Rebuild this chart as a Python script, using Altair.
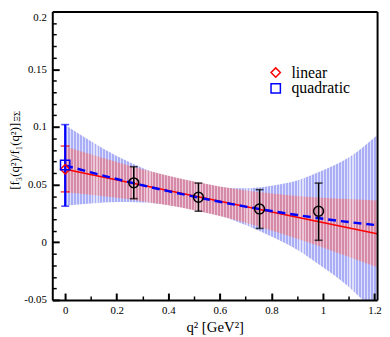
import altair as alt
import pandas as pd

# ---------------- data ----------------
band_x = [0.0, 0.1, 0.2, 0.3, 0.4, 0.5, 0.6, 0.7, 0.8, 0.9, 1.0, 1.1, 1.21]
lin_lo = [0.0433, 0.0412, 0.0385, 0.0356, 0.0320, 0.0278, 0.0227, 0.0169, 0.0103, 0.0031, -0.0045, -0.0126, -0.0217]
lin_hi = [0.0833, 0.0762, 0.0695, 0.0632, 0.0576, 0.0526, 0.0483, 0.0449, 0.0423, 0.0401, 0.0385, 0.0374, 0.0363]
quad_c = [0.0666, 0.0606, 0.0548, 0.0494, 0.0443, 0.0396, 0.0351, 0.0309, 0.0271, 0.0236, 0.0204, 0.0175, 0.0148]
quad_lo = [0.0316, 0.0336, 0.0348, 0.0344, 0.0323, 0.0286, 0.0231, 0.0149, 0.0051, -0.0064, -0.0216, -0.0385, -0.0632]
quad_hi = [0.1016, 0.0876, 0.0748, 0.0644, 0.0563, 0.0506, 0.0471, 0.0469, 0.0491, 0.0536, 0.0624, 0.0735, 0.0928]

lin_x = [0.0, 1.21]
lin_y = [0.0633, 0.0073]

q2 = [0.266, 0.517, 0.754, 0.983]
ratio = [0.0515, 0.0390, 0.0289, 0.0269]
ratio_lo = [0.0378, 0.0269, 0.0120, 0.0017]
ratio_hi = [0.0655, 0.0513, 0.0456, 0.0513]

fits = ["linear", "quadratic"]
fit_x = [0.0, 0.0]
fit_val = [0.0633, 0.0670]
fit_lo = [0.0437, 0.0313]
fit_hi = [0.0834, 0.1020]

x_major = [0, 0.2, 0.4, 0.6, 0.8, 1.0, 1.2]
x_minor = [0.1, 0.3, 0.5, 0.7, 0.9, 1.1]
y_major = [-0.05, 0, 0.05, 0.1, 0.15, 0.2]
y_minor = [-0.04, -0.03, -0.02, -0.01, 0.01, 0.02, 0.03, 0.04, 0.06, 0.07, 0.08, 0.09,
           0.11, 0.12, 0.13, 0.14, 0.16, 0.17, 0.18, 0.19]

# ---------------- styling ----------------
FONT = "Liberation Serif"
W, H = 330, 293
X_DOM = [-0.05, 1.21]
Y_DOM = [-0.05, 0.2]
xs = alt.Scale(domain=X_DOM, nice=False, zero=False)
ys = alt.Scale(domain=Y_DOM, nice=False, zero=False)
RED, BLUE = "#ff0000", "#0000ff"

band_px = W * (band_x[-1] - band_x[0]) / (X_DOM[1] - X_DOM[0])
N_STRIPES = int(round(band_px / 3.0))


def stripe_fill(line, gap, n):
    stops = []
    for i in range(n):
        a, b, c = i / n, (i + 0.62) / n, (i + 1) / n
        stops += [alt.GradientStop(offset=a, color=line), alt.GradientStop(offset=b, color=line),
                  alt.GradientStop(offset=b, color=gap), alt.GradientStop(offset=c, color=gap)]
    return alt.LinearGradient(gradient="linear", stops=stops, x1=0, x2=1, y1=0, y2=0)


blue_fill = stripe_fill("#a9aef6", "#dfe1fb", N_STRIPES)
pink_fill = stripe_fill("#d58ba8", "#ecc6d5", N_STRIPES)

band_df = pd.DataFrame({"x": band_x, "lin_lo": lin_lo, "lin_hi": lin_hi,
                        "quad_c": quad_c, "quad_lo": quad_lo, "quad_hi": quad_hi})
lin_df = pd.DataFrame({"x": lin_x, "y": lin_y})
pts_df = pd.DataFrame({"x": q2, "y": ratio, "lo": ratio_lo, "hi": ratio_hi})
fit_df = pd.DataFrame({"fit": fits, "x": fit_x, "y": fit_val, "lo": fit_lo, "hi": fit_hi})

# axes
ax_x_main = alt.Axis(orient="bottom", values=x_major, format="~g", labelFont=FONT, labelFontSize=11,
                     labelColor="black", ticks=False, tickSize=0, domain=True, domainColor="black",
                     domainWidth=2, grid=False, labelPadding=5, title="q² [GeV²]", titleFont=FONT,
                     titleFontSize=15, titleFontWeight="normal", titleColor="black", titlePadding=4,
                     zindex=1)
ax_y_main = alt.Axis(orient="left", values=y_major,
                     labelExpr="replace(format(datum.value, '~g'), '\u2212', '-')",
                     labelFont=FONT, labelFontSize=11, labelColor="black", ticks=False, tickSize=0,
                     domain=True, domainColor="black", domainWidth=2, grid=False, labelPadding=6,
                     labelBaseline=alt.condition("datum.value == 0.2", alt.value("top"), alt.value("middle")),
                     title=None, zindex=1)
ax_x_frame = alt.Axis(orient="top", labels=False, ticks=False, tickSize=0, domain=True,
                      domainColor="black", domainWidth=2, grid=False, title=None, zindex=1)
ax_y_frame = alt.Axis(orient="right", labels=False, ticks=False, tickSize=0, domain=True,
                      domainColor="black", domainWidth=2, grid=False, title=None, zindex=1)
ax_x_major = alt.Axis(orient="top", offset=-H, values=x_major, labels=False, ticks=True, tickSize=7,
                      tickWidth=2, tickColor="black", domain=False, grid=False, title=None, zindex=1)
ax_y_major = alt.Axis(orient="right", offset=-W, values=y_major, labels=False, ticks=True, tickSize=7,
                      tickWidth=2, tickColor="black", domain=False, grid=False, title=None, zindex=1)
ax_x_minor = alt.Axis(orient="top", offset=-H, values=x_minor, labels=False, ticks=True, tickSize=4,
                      tickWidth=1.5, tickColor="black", domain=False, grid=False, title=None, zindex=1)
ax_y_minor = alt.Axis(orient="right", offset=-W, values=y_minor, labels=False, ticks=True, tickSize=4,
                      tickWidth=1.5, tickColor="black", domain=False, grid=False, title=None, zindex=1)

blue_band = alt.Chart(band_df).mark_area(fill=blue_fill, clip=True, interpolate="monotone").encode(
    x=alt.X("x:Q", scale=xs, axis=ax_x_main),
    y=alt.Y("quad_lo:Q", scale=ys, axis=ax_y_main),
    y2="quad_hi:Q")

pink_band = alt.Chart(band_df).mark_area(fill=pink_fill, clip=True, interpolate="monotone").encode(
    x=alt.X("x:Q", scale=xs, axis=ax_x_frame),
    y=alt.Y("lin_lo:Q", scale=ys, axis=ax_y_frame),
    y2="lin_hi:Q")

red_line = alt.Chart(lin_df).mark_line(color=RED, strokeWidth=1.6, clip=True).encode(
    x=alt.X("x:Q", scale=xs, axis=ax_x_major),
    y=alt.Y("y:Q", scale=ys, axis=ax_y_major))

blue_line = alt.Chart(band_df).mark_line(color=BLUE, strokeWidth=2.5, strokeDash=[8, 5],
                                         interpolate="monotone", clip=True).encode(
    x=alt.X("x:Q", scale=xs, axis=ax_x_minor),
    y=alt.Y("quad_c:Q", scale=ys, axis=ax_y_minor))


def fit_errbar(name, color, width, cap):
    base = alt.Chart(fit_df).transform_filter(alt.datum.fit == name)
    bar = base.mark_rule(color=color, strokeWidth=width).encode(
        x=alt.X("x:Q", scale=xs, axis=None),
        y=alt.Y("lo:Q", scale=ys, axis=None), y2="hi:Q")
    lo = base.mark_tick(orient="horizontal", color=color, size=cap, thickness=1.6).encode(
        x=alt.X("x:Q", scale=xs, axis=None), y=alt.Y("lo:Q", scale=ys, axis=None))
    hi = base.mark_tick(orient="horizontal", color=color, size=cap, thickness=1.6).encode(
        x=alt.X("x:Q", scale=xs, axis=None), y=alt.Y("hi:Q", scale=ys, axis=None))
    return [bar, lo, hi]


red_err = fit_errbar("linear", RED, 1.5, 9)
blue_err = fit_errbar("quadratic", BLUE, 2.2, 8)

leg = alt.Legend(title=None, orient="none", legendX=219, legendY=54, labelFont=FONT, labelFontSize=16,
                 labelColor="black", symbolSize=90, symbolStrokeWidth=1.5, padding=0, rowPadding=0,
                 labelOffset=8)
fit_pts = alt.Chart(fit_df).mark_point(filled=False, size=90, strokeWidth=1.5, opacity=1).encode(
    x=alt.X("x:Q", scale=xs, axis=None),
    y=alt.Y("y:Q", scale=ys, axis=None),
    shape=alt.Shape("fit:N", scale=alt.Scale(domain=fits, range=["diamond", "square"]), legend=leg),
    color=alt.Color("fit:N", scale=alt.Scale(domain=fits, range=[RED, BLUE]), legend=leg))

pt_bar = alt.Chart(pts_df).mark_rule(color="black", strokeWidth=1.5).encode(
    x=alt.X("x:Q", scale=xs, axis=None),
    y=alt.Y("lo:Q", scale=ys, axis=None), y2="hi:Q")
pt_cap_lo = alt.Chart(pts_df).mark_tick(orient="horizontal", color="black", size=8, thickness=1.6).encode(
    x=alt.X("x:Q", scale=xs, axis=None), y=alt.Y("lo:Q", scale=ys, axis=None))
pt_cap_hi = alt.Chart(pts_df).mark_tick(orient="horizontal", color="black", size=8, thickness=1.6).encode(
    x=alt.X("x:Q", scale=xs, axis=None), y=alt.Y("hi:Q", scale=ys, axis=None))
pts = alt.Chart(pts_df).mark_point(shape="circle", filled=False, size=100, strokeWidth=1.5,
                                   color="black", opacity=1).encode(
    x=alt.X("x:Q", scale=xs, axis=None), y=alt.Y("y:Q", scale=ys, axis=None))

ytitle_main = alt.Chart(pd.DataFrame({"t": ["[f₃(q²)/f₁(q²)]"]})).mark_text(
    angle=270, font=FONT, fontSize=13, align="right", baseline="middle", color="black").encode(
    x=alt.value(-37.5), y=alt.value(113), text="t:N")
ytitle_sub = alt.Chart(pd.DataFrame({"t": ["ΞΣ"]})).mark_text(
    angle=270, font=FONT, fontSize=9, align="left", baseline="middle", color="black").encode(
    x=alt.value(-35.5), y=alt.value(112), text="t:N")

chart = alt.layer(
    blue_band, pink_band, red_line, blue_line,
    *red_err, *blue_err, fit_pts,
    pt_bar, pt_cap_lo, pt_cap_hi, pts,
    ytitle_main, ytitle_sub,
).resolve_axis(x="independent", y="independent").properties(
    width=W, height=H, autosize="none",
    padding={"left": 45, "top": 1, "right": 5, "bottom": 33},
    background="white",
).configure_view(strokeWidth=0)

chart.save("out.html", embed_options={"renderer": "svg", "actions": False})
